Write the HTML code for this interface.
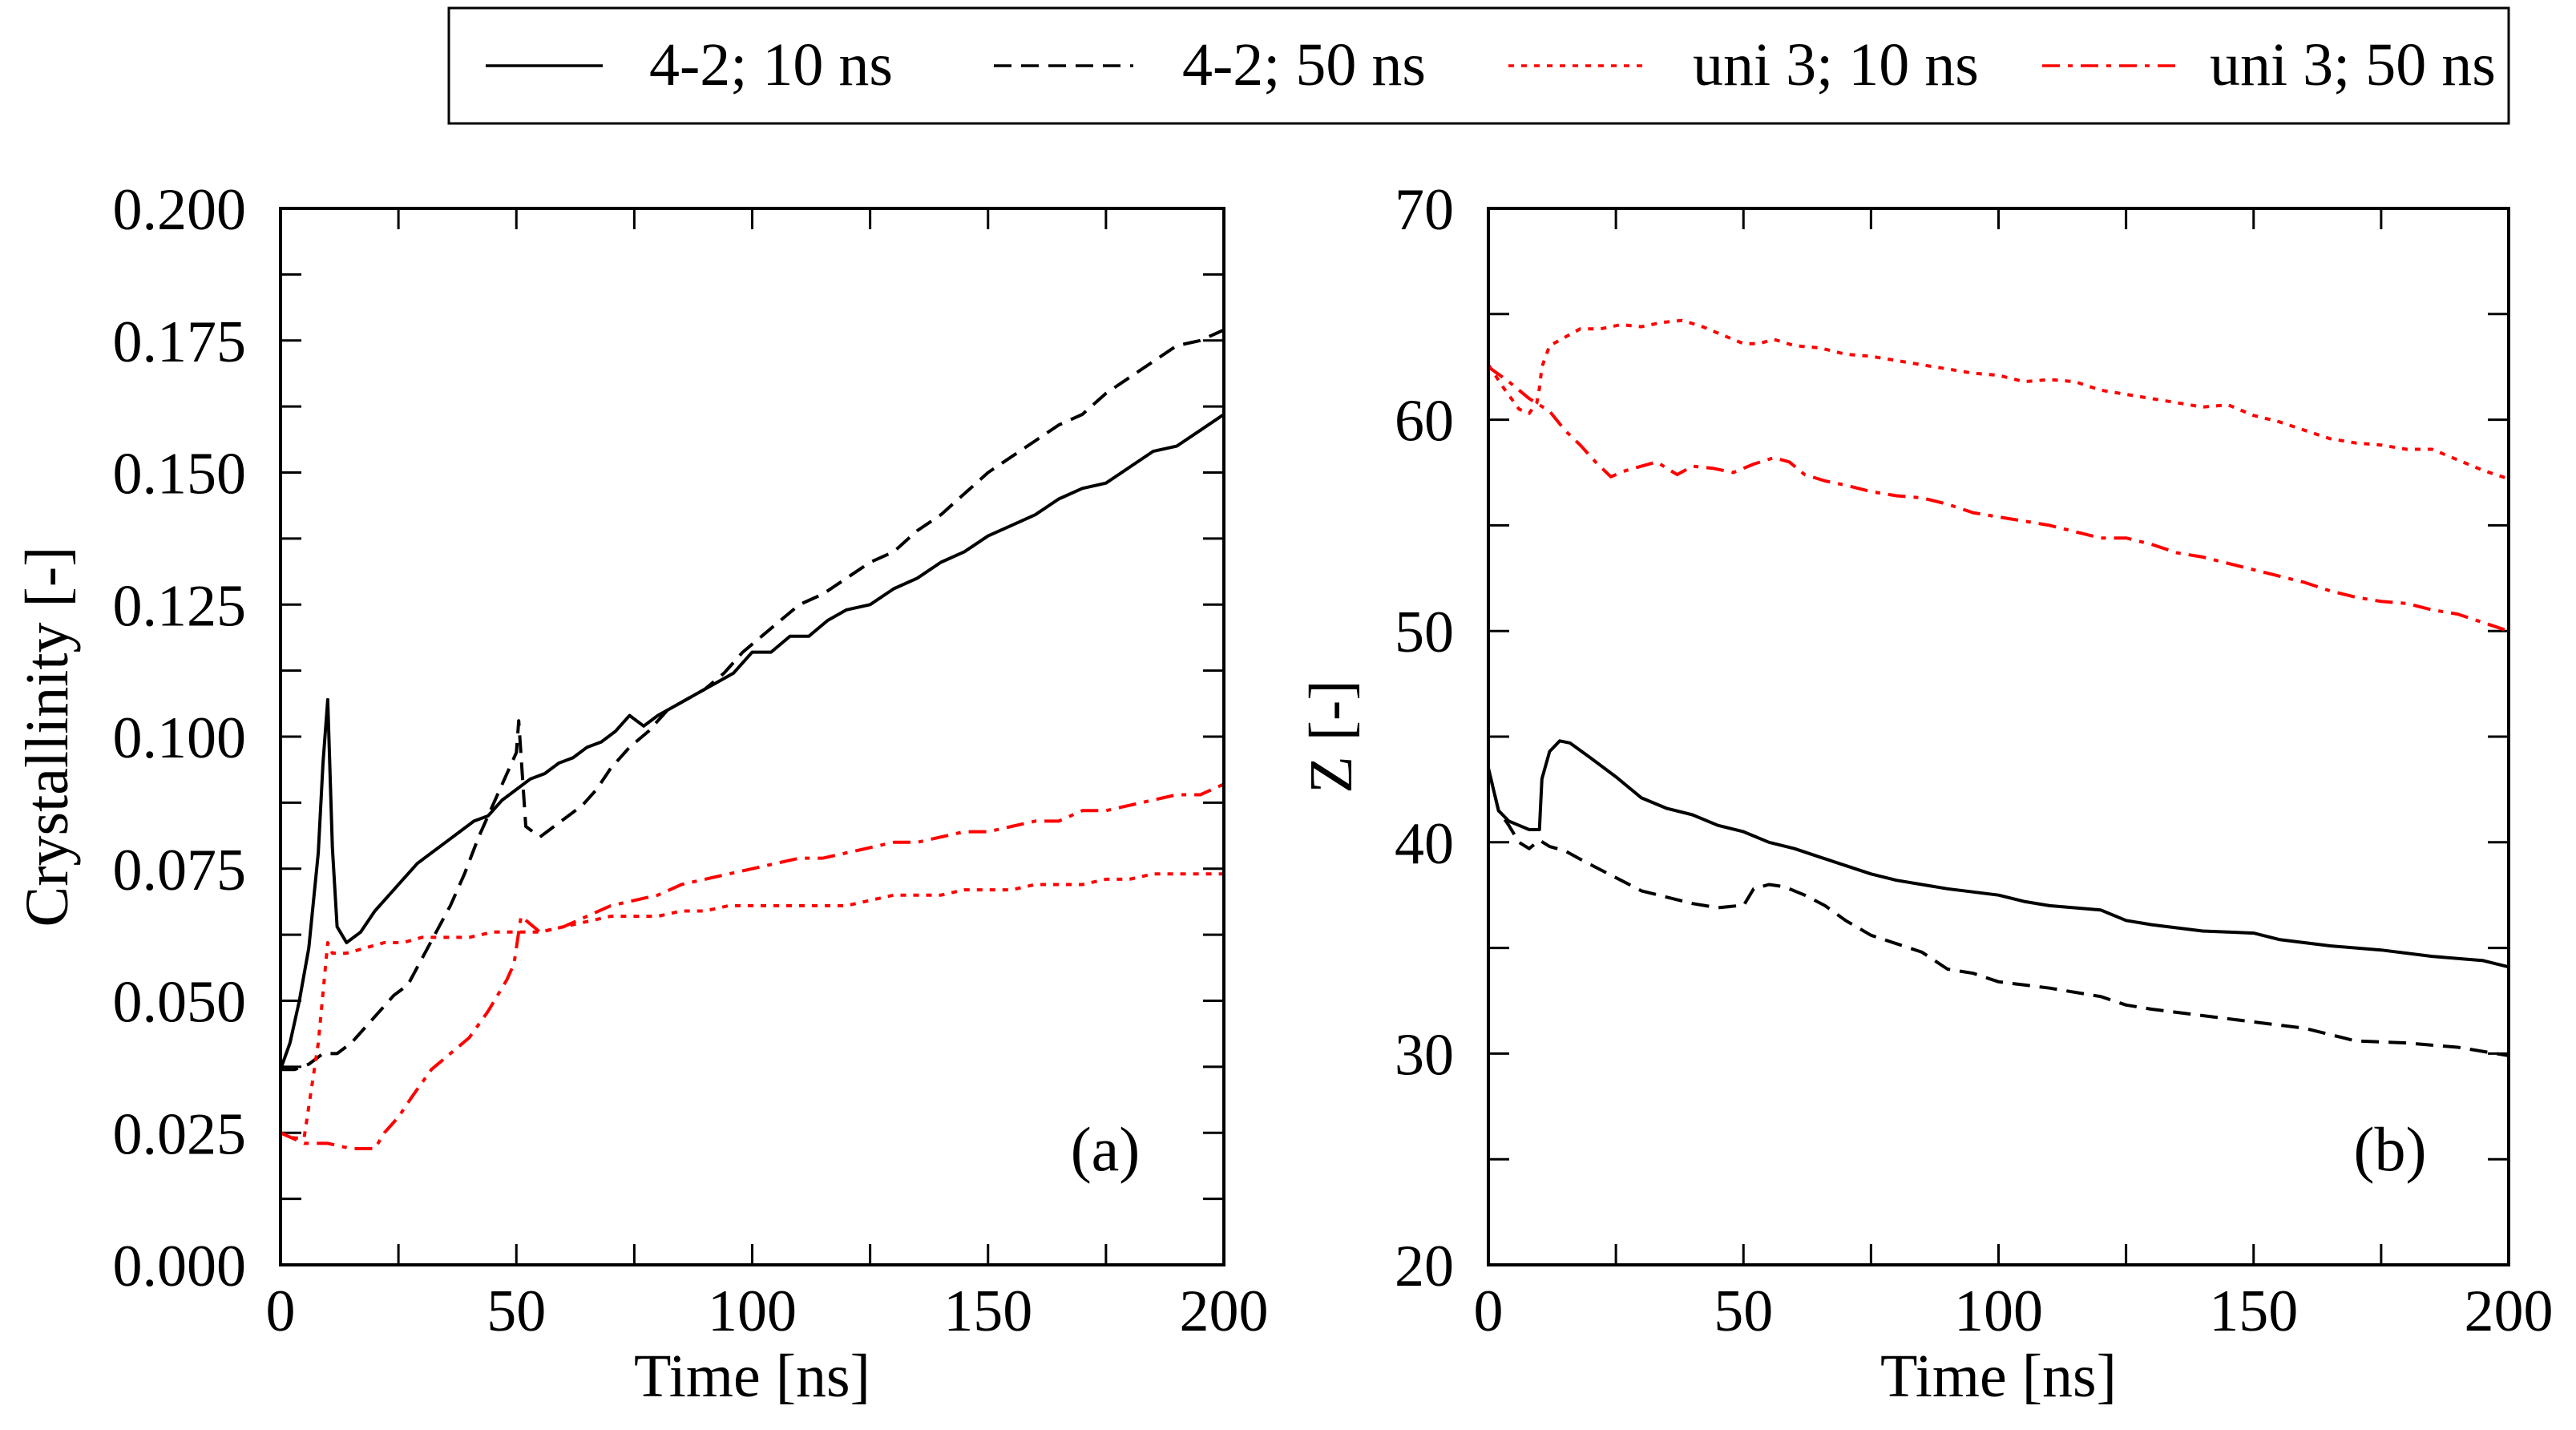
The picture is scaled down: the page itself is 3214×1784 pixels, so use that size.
<!DOCTYPE html>
<html><head><meta charset="utf-8"><style>
body{margin:0;background:#fff;}
svg{display:block;font-family:"Liberation Serif",serif;}
</style></head><body>
<svg id="chart" width="3214" height="1784" viewBox="0 0 3214 1784">
<g>
<rect x="560" y="10" width="2570" height="144" fill="#fff" stroke="#000" stroke-width="3"/>
<line x1="606" y1="82" x2="752" y2="82" stroke="#000" stroke-width="3.5"/>
<text x="810" y="106" font-size="76">4-2; 10 ns</text>
<line x1="1240" y1="82" x2="1414" y2="82" stroke="#000" stroke-width="3.5" stroke-dasharray="22,12"/>
<text x="1475" y="106" font-size="76">4-2; 50 ns</text>
<line x1="1882" y1="82" x2="2050" y2="82" stroke="#f00" stroke-width="3.5" stroke-dasharray="7,9"/>
<text x="2112" y="106" font-size="76">uni 3; 10 ns</text>
<line x1="2548" y1="82" x2="2716" y2="82" stroke="#f00" stroke-width="3.5" stroke-dasharray="22,10,6,10"/>
<text x="2757" y="106" font-size="76">uni 3; 50 ns</text>
</g>
<g id="pa"></g>
<g id="pb"></g>
</svg>
<script>
const xTicks = [0, 50, 100, 150, 200];
const aTicks = [0, 0.025, 0.05, 0.075, 0.1, 0.125, 0.15, 0.175, 0.2];
const aTickLabels = ["0.000","0.025","0.050","0.075","0.100","0.125","0.150","0.175","0.200"];
const bTicks = [20, 30, 40, 50, 60, 70];
const bTickLabels = ["20","30","40","50","60","70"];

const aT1 = [0,2,4,6,8,9,10,11,12,14,17,20,23,26,29,32,35,38,41,44,47,50,53,56,59,62,65,68,71,74,77,80,84,88,92,96,100,104,108,112,116,120,125,130,135,140,145,150,155,160,165,170,175,180,185,190,195,200];
const aV1 = [0.037,0.042,0.05,0.06,0.078,0.095,0.107,0.079,0.064,0.061,0.063,0.067,0.070,0.073,0.076,0.078,0.080,0.082,0.084,0.085,0.088,0.090,0.092,0.093,0.095,0.096,0.098,0.099,0.101,0.104,0.102,0.104,0.106,0.108,0.110,0.112,0.116,0.116,0.119,0.119,0.122,0.124,0.125,0.128,0.130,0.133,0.135,0.138,0.140,0.142,0.145,0.147,0.148,0.151,0.154,0.155,0.158,0.161];
const aT2 = [0,3,6,9,12,15,18,21,24,27,30,33,36,39,42,45,48,50,50.5,52,55,58,61,64,67,70,74,78,82,86,90,94,98,102,106,110,115,120,125,130,135,140,145,150,155,160,165,170,175,180,185,190,195,200];
const aV2 = [0.037,0.037,0.038,0.04,0.040,0.042,0.045,0.048,0.051,0.053,0.058,0.063,0.068,0.074,0.081,0.087,0.093,0.097,0.103,0.083,0.081,0.083,0.085,0.087,0.090,0.094,0.098,0.101,0.105,0.107,0.109,0.112,0.116,0.119,0.122,0.125,0.127,0.130,0.133,0.135,0.139,0.142,0.146,0.150,0.153,0.156,0.159,0.161,0.165,0.168,0.171,0.174,0.175,0.177];
const aT3 = [0,3,5,8,10,11,14,18,22,26,30,35,40,45,50,55,60,65,70,75,80,85,90,95,100,105,110,115,120,125,130,135,140,145,150,155,160,165,170,175,180,185,190,195,200];
const aV3 = [0.025,0.024,0.024,0.042,0.061,0.059,0.059,0.060,0.061,0.061,0.062,0.062,0.062,0.063,0.063,0.063,0.064,0.065,0.066,0.066,0.066,0.067,0.067,0.068,0.068,0.068,0.068,0.068,0.068,0.069,0.070,0.070,0.070,0.071,0.071,0.071,0.072,0.072,0.072,0.073,0.073,0.074,0.074,0.074,0.074];
const aT4 = [0,5,10,15,20,22,25,28,32,36,40,44,48,49.5,51,55,60,65,70,75,80,85,90,95,100,105,110,115,120,125,130,135,140,145,150,155,160,165,170,175,180,185,190,195,200];
const aV4 = [0.025,0.023,0.023,0.022,0.022,0.025,0.028,0.032,0.037,0.040,0.043,0.048,0.054,0.057,0.066,0.063,0.064,0.066,0.068,0.069,0.070,0.072,0.073,0.074,0.075,0.076,0.077,0.077,0.078,0.079,0.080,0.080,0.081,0.082,0.082,0.083,0.084,0.084,0.086,0.086,0.087,0.088,0.089,0.089,0.091];

const bT1 = [0,2,4,6,8,10,10.5,12,14,16,20,25,30,35,40,45,50,55,60,65,70,75,80,90,100,105,110,120,125,130,140,150,155,165,175,185,195,200];
const bV1 = [43.5,41.5,41,40.8,40.6,40.6,43,44.3,44.8,44.7,44,43.1,42.1,41.6,41.3,40.8,40.5,40,39.7,39.3,38.9,38.5,38.2,37.8,37.5,37.2,37.0,36.8,36.3,36.1,35.8,35.7,35.4,35.1,34.9,34.6,34.4,34.1];
const bT2 = [0,2,4,6,8,10,12,15,18,22,26,30,35,40,45,49,50,52,55,58,62,66,70,75,80,85,90,95,100,110,120,125,130,140,150,160,165,170,180,190,200];
const bV2 = [43.5,41.5,40.8,40,39.7,40.1,39.8,39.6,39.2,38.7,38.2,37.7,37.4,37.1,36.9,37,37,37.8,38,37.9,37.5,37,36.3,35.6,35.2,34.8,34,33.8,33.4,33.1,32.7,32.3,32.1,31.8,31.5,31.2,30.9,30.6,30.5,30.3,29.9];
const bT3 = [0,3,6,8,9.5,10,10.5,12,15,18,22,26,30,34,38,42,46,50,53,56,60,65,70,75,80,85,90,95,100,105,110,115,120,125,130,135,140,145,150,155,160,165,170,175,180,185,190,195,200];
const bV3 = [62.6,61.5,60.5,60.3,60.8,61.5,62.5,63.5,63.9,64.3,64.3,64.5,64.4,64.6,64.7,64.4,64,63.6,63.6,63.8,63.5,63.4,63.1,63,62.8,62.6,62.4,62.2,62.1,61.8,61.9,61.8,61.4,61.2,61,60.8,60.6,60.7,60.2,59.9,59.5,59.1,58.9,58.8,58.6,58.6,58.1,57.6,57.2];
const bT4 = [0,4,8,12,15,18,21,24,27,30,33,37,40,44,48,52,56,59,62,66,70,75,80,85,90,95,100,105,110,115,120,125,130,135,140,145,150,155,160,165,170,175,180,185,190,195,200];
const bV4 = [62.5,61.8,61,60.4,59.5,58.8,58,57.3,57.6,57.8,58,57.4,57.8,57.7,57.5,57.9,58.2,58,57.4,57.1,56.9,56.6,56.4,56.3,56,55.6,55.4,55.2,55,54.7,54.4,54.4,54.1,53.7,53.5,53.2,52.9,52.6,52.3,51.9,51.6,51.4,51.3,51,50.8,50.4,50];

const NS = "http://www.w3.org/2000/svg";
function mk(tag, attrs, parent, txt){
  const e = document.createElementNS(NS, tag);
  for (const k in attrs) e.setAttribute(k, attrs[k]);
  if (txt !== undefined) e.textContent = txt;
  parent.appendChild(e);
  return e;
}
function panel(gid, L, R, T, B, ymin, ymax, yticks, ylabels, yminor, ytitle, ylabelRight, tag, series){
  const g = document.getElementById(gid);
  const sx = v => L + (v - 0) / 200 * (R - L);
  const sy = v => B - (v - ymin) / (ymax - ymin) * (B - T);
  for (let v = 0; v <= 200.001; v += 25) {
    const x = sx(v);
    const t1 = mk('line', {x1:x, y1:B, x2:x, y2:B-26, stroke:'#000','stroke-width':3}, g);
    
    
    const t2 = mk('line', {x1:x, y1:T, x2:x, y2:T+26, stroke:'#000','stroke-width':3}, g);
    
    
  }
  for (let v = ymin; v <= ymax + 1e-9; v += yminor) {
    const y = sy(v);
    const t1 = mk('line', {x1:L, y1:y, x2:L+26, y2:y, stroke:'#000','stroke-width':3}, g);
    
    
    const t2 = mk('line', {x1:R, y1:y, x2:R-26, y2:y, stroke:'#000','stroke-width':3}, g);
    
    
  }
  xTicks.forEach(v => {
    const t = mk('text', {x:sx(v), y:B+82, 'font-size':74, 'text-anchor':'middle'}, g, String(v));
    
    
  });
  yticks.forEach((v, i) => {
    const t = mk('text', {x:ylabelRight, y:sy(v)+26, 'font-size':74, 'text-anchor':'end'}, g, ylabels[i]);
    
    
  });
  const xt = mk('text', {x:(L+R)/2, y:B+164, 'font-size':76, 'text-anchor':'middle'}, g, 'Time [ns]');
  
  
  const yx = gid === 'pa' ? 84 : 1686;
  const yt = mk('text', {x:yx, y:(T+B)/2, 'font-size':76, 'text-anchor':'middle', transform:`rotate(-90 ${yx} ${(T+B)/2})`}, g, ytitle);
  
  
  const pl = mk('text', {x:R-148, y:B-118, 'font-size':78, 'text-anchor':'middle'}, g, tag);
  
  
  series.forEach(s => {
    const d = s.t.map((t, i) => (i ? 'L' : 'M') + sx(t).toFixed(1) + ',' + sy(s.v[i]).toFixed(1)).join(' ');
    const p = mk('path', {d:d, fill:'none', stroke:s.c, 'stroke-width':4, 'stroke-linejoin':'round'}, g);
    if (s.dash) p.setAttribute('stroke-dasharray', s.dash);
    
    
  });
  const frame = mk('rect', {x:L, y:T, width:R-L, height:B-T, fill:'none', stroke:'#000', 'stroke-width':4}, g);
  
  
}
panel('pa', 350, 1527, 260, 1578, 0, 0.2, aTicks, aTickLabels, 0.0125, 'Crystallinity [-]', 307, '(a)', [
  {t:aT1, v:aV1, c:'#000', name:'line-42-10ns'},
  {t:aT2, v:aV2, c:'#000', dash:'22,12', name:'line-42-50ns'},
  {t:aT3, v:aV3, c:'#f00', dash:'7,9', name:'line-uni3-10ns'},
  {t:aT4, v:aV4, c:'#f00', dash:'22,10,6,10', name:'line-uni3-50ns'}
]);
panel('pb', 1857, 3130, 260, 1578, 20, 70, bTicks, bTickLabels, 5, 'Z [-]', 1814, '(b)', [
  {t:bT1, v:bV1, c:'#000', name:'line-42-10ns'},
  {t:bT2, v:bV2, c:'#000', dash:'22,12', name:'line-42-50ns'},
  {t:bT3, v:bV3, c:'#f00', dash:'7,9', name:'line-uni3-10ns'},
  {t:bT4, v:bV4, c:'#f00', dash:'22,10,6,10', name:'line-uni3-50ns'}
]);
</script>
</body></html>
